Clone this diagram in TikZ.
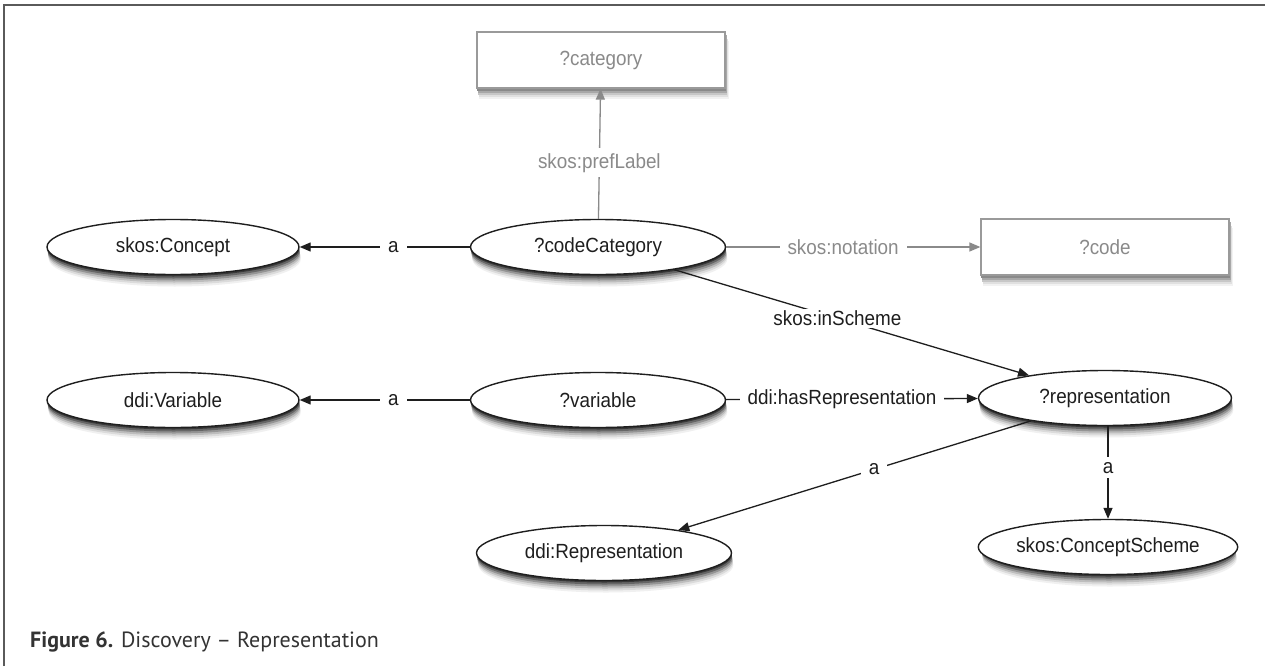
\documentclass[tikz,border=0pt]{standalone}
\usepackage{fontspec}
\setmainfont{Liberation Sans}[FakeStretch=0.92]
\newfontfamily\capfont{PT Sans}
\usetikzlibrary{shapes.geometric,arrows.meta,backgrounds}
\definecolor{inkc}{HTML}{1E1E1E}
\definecolor{greyc}{HTML}{8A8A8A}
\definecolor{boxc}{HTML}{9A9A9A}
\definecolor{framec}{HTML}{5A5A5A}
\definecolor{capc}{HTML}{333333}
\tikzset{
  x=1pt,y=-1pt,
  every node/.style={font=\fontsize{20.5}{23}\selectfont},
  ell/.style={ellipse,draw=inkc,line width=1.4pt,fill=white,text=inkc,
    minimum width=252pt,minimum height=55pt,inner sep=0pt},
  lit/.style={rectangle,draw=boxc,line width=1.3pt,fill=white,text=greyc,
    minimum width=248pt,minimum height=56pt,inner sep=0pt},
  edge/.style={draw=inkc,line width=1.3pt,-{Triangle[length=11pt,width=9pt]}},
  gedge/.style={draw=greyc,line width=1.3pt,-{Triangle[length=11pt,width=9pt]}},
  elab/.style={fill=white,text=inkc,inner xsep=8pt,inner ysep=5pt,pos=0.45},
  glab/.style={fill=white,text=greyc,inner xsep=8pt,inner ysep=5pt,pos=0.45}
}
% shadow of an ellipse node: name, x radius, y radius
\newcommand\myeshadow[3]{%
  \foreach \s/\c in {12/6,10/14,8/26,6/42,4/60,2/78}{%
    \fill[black!\c] ([xshift=0.15*\s pt,yshift=-\s pt]#1.center) ellipse [x radius=#2, y radius=#3];}}
% shadow of a box node
\newcommand\mybshadow[1]{%
  \foreach \s/\c in {10/5,8/12,6/22,4/34,2/46}{%
    \fill[black!\c] ([xshift=0.3*\s pt,yshift=-\s pt]#1.south west) rectangle ([xshift=0.3*\s pt,yshift=-\s pt]#1.north east);}}
\begin{document}
\begin{tikzpicture}
\useasboundingbox (0,0) rectangle (1265,666);

\node[lit] (cat) at (601,60) {?category};
\node[lit] (code) at (1105,247) {?code};
\node[ell] (concept) at (173,247) {skos:Concept};
\node[ell,minimum width=255pt] (cc) at (598,247) {?codeCategory};
\node[ell] (ddivar) at (173,400) {ddi:Variable};
\node[ell,minimum width=255pt] (var) at (598,400) {?variable};
\node[ell,minimum width=253pt] (rep) at (1105,398) {?representation};
\node[ell,minimum width=255pt] (ddirep) at (604,553) {ddi:Representation};
\node[ell,minimum width=254pt] (scheme) at (1108,547) {skos:ConceptScheme};

\begin{scope}[on background layer]
  \fill[white] (0,0) rectangle (1265,666);
  \mybshadow{cat}
  \mybshadow{code}
  \myeshadow{concept}{126}{27.5}
  \myeshadow{cc}{127.5}{27.5}
  \myeshadow{ddivar}{126}{27.5}
  \myeshadow{var}{127.5}{27.5}
  \myeshadow{rep}{126.5}{27.5}
  \myeshadow{ddirep}{127.5}{27.5}
  \myeshadow{scheme}{127}{27.5}
\end{scope}

\draw[framec,line width=1.6pt] (4,666) -- (4,5) -- (1265,5);

\draw[edge] (cc) -- node[elab] {a} (concept);
\draw[gedge] (cc) -- node[glab,pos=0.43] {skos:prefLabel} (cat);
\draw[gedge] (cc) -- node[glab,pos=0.46] {skos:notation} (code);
\draw[edge] (cc) -- node[elab,pos=0.46,inner ysep=2pt] {skos:inScheme} (rep);
\draw[edge] (var) -- node[elab] {a} (ddivar);
\draw[edge] (var) -- node[elab,pos=0.46] {ddi:hasRepresentation} (rep);
\draw[edge] (rep) -- node[elab,pos=0.445,inner ysep=3pt] {a} (ddirep);
\draw[edge] (rep.south -| scheme.north) -- node[elab] {a} (scheme.north);

\node[anchor=base west,text=capc,inner sep=0pt,font=\capfont\fontsize{22}{26}\selectfont] (cap) at (30,647)
  {\textbf{Figure 6.} Discovery – Representation};
\end{tikzpicture}
\end{document}
